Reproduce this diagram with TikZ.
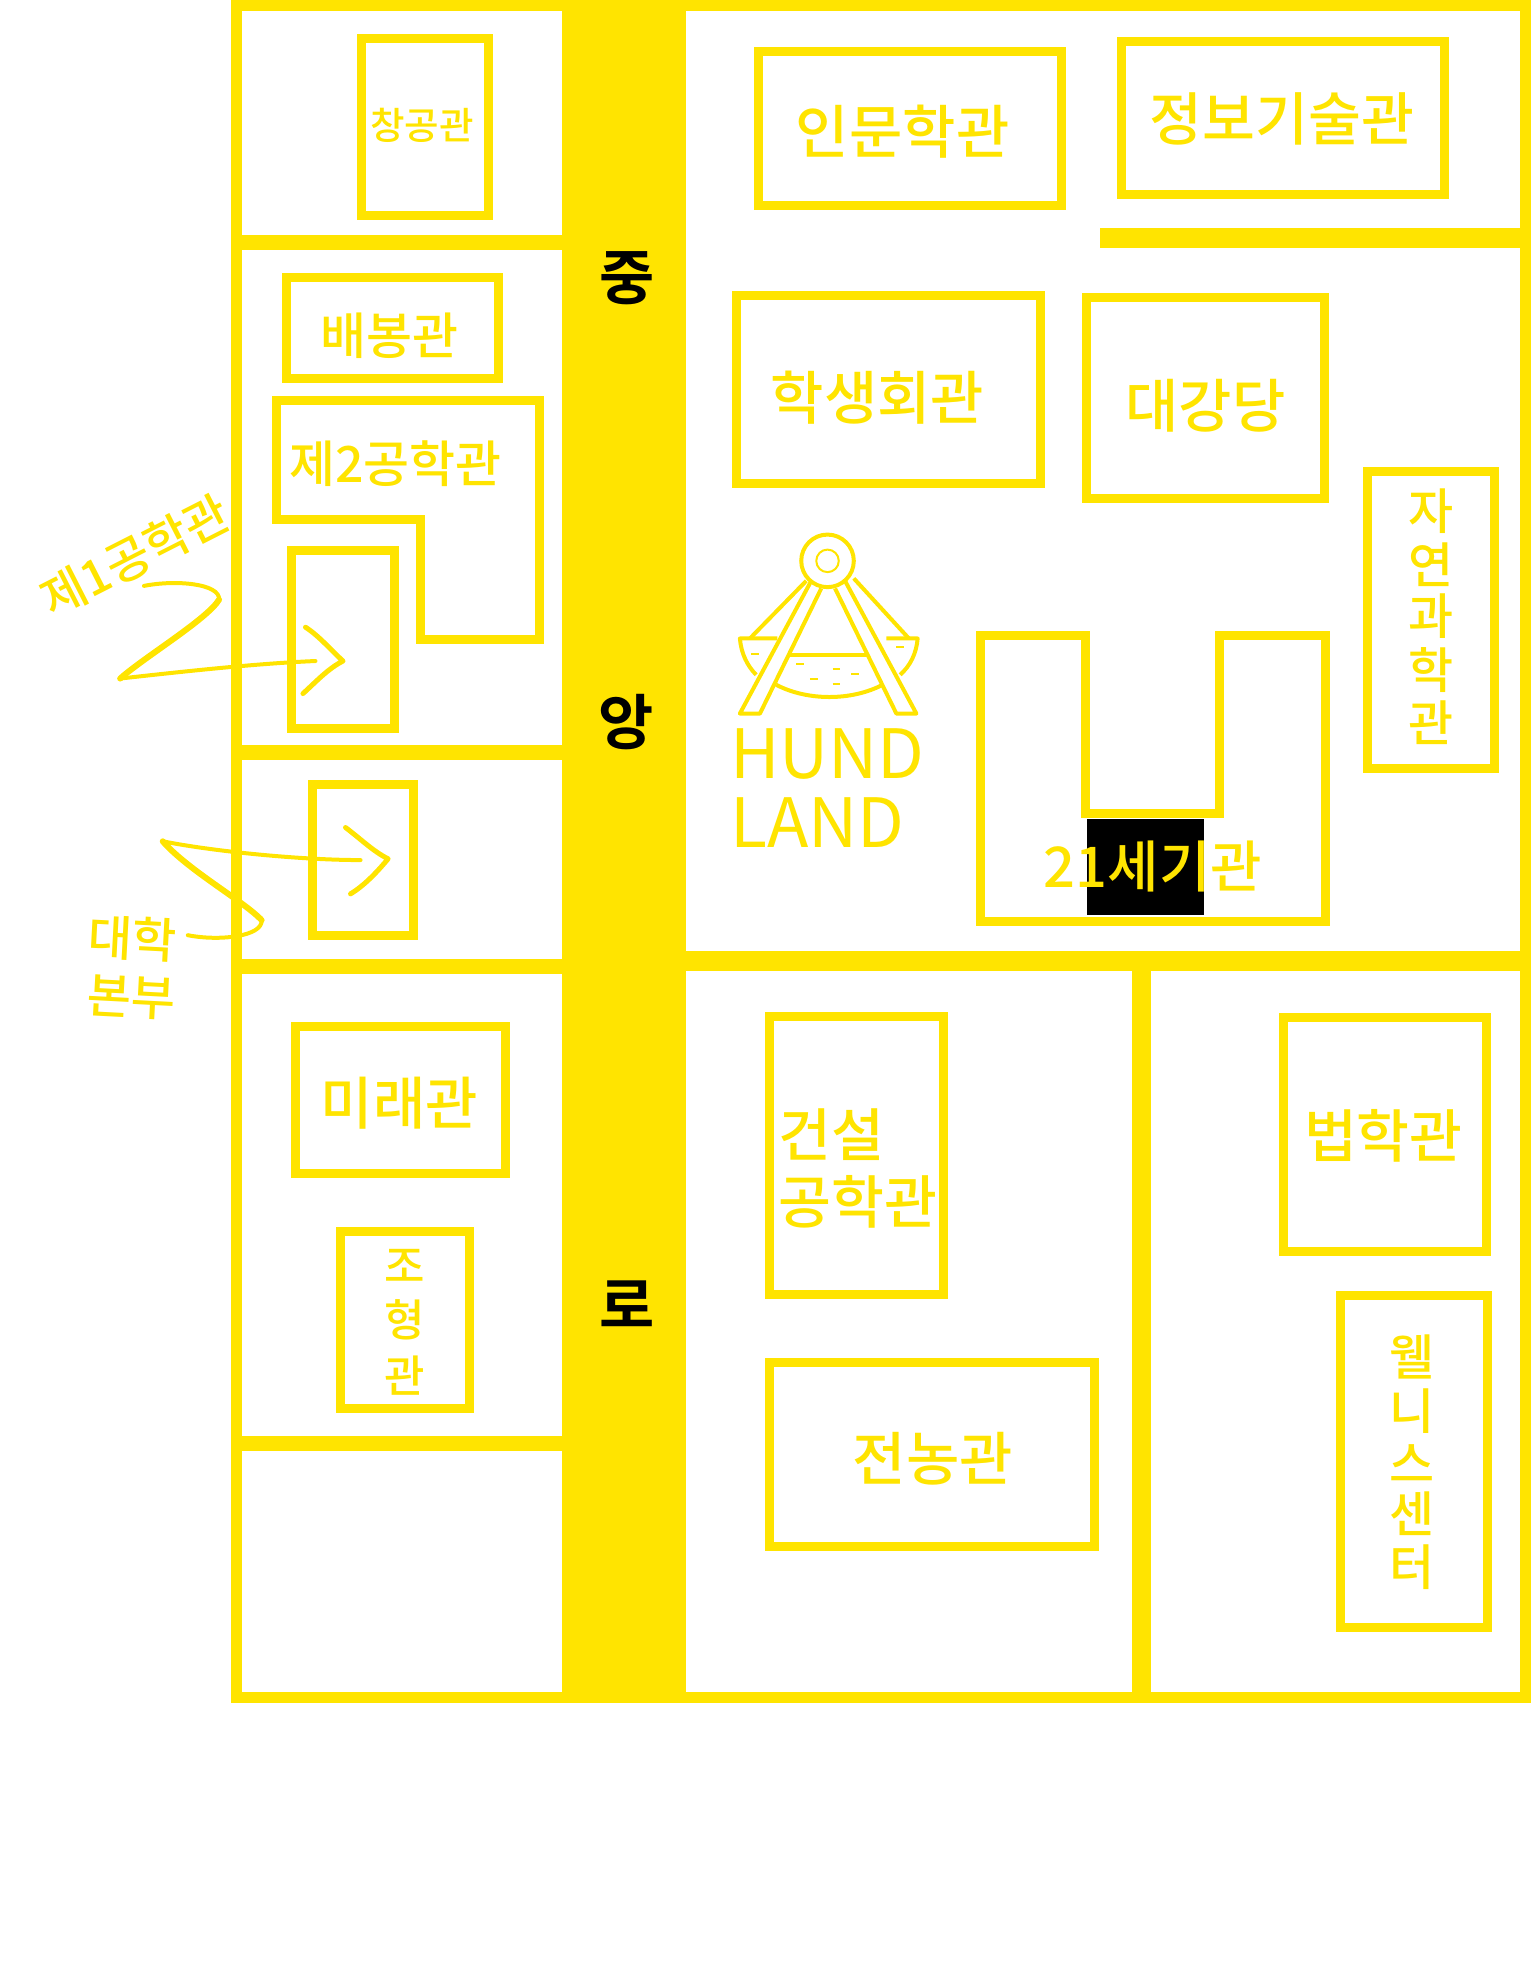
\documentclass[tikz,border=0pt]{standalone}
\usepackage{fontspec}
\newfontfamily\krfont{Noto Sans CJK KR Medium}
\newfontfamily\krboldfont{Noto Sans CJK KR Bold}
\newfontfamily\hundfont{Noto Sans CJK KR}
\definecolor{mapyellow}{HTML}{FFE400}
\tikzset{
  wall/.style={draw=mapyellow,line width=11pt},
  building/.style={draw=mapyellow,line width=9pt,miter limit=10},
  tag/.style={text=mapyellow,inner sep=0pt,yshift=-2.5pt,font=\krfont\fontsize{#1}{#1}\selectfont},
  roadtag/.style={text=black,inner sep=0pt,yshift=-2.5pt,font=\krboldfont\fontsize{60}{60}\selectfont},
  scribble/.style={draw=mapyellow,line width=4pt,line cap=round,line join=round},
  icon/.style={draw=mapyellow,line width=4pt,line join=round}
}
\begin{document}
\begin{tikzpicture}[x=1.25183pt,y=-1.25183pt]
    \useasboundingbox (0,0) rectangle (1223,1568);

    % road and outer walls
    \fill[mapyellow] (449,0) rectangle (548,1360);
    \draw[wall] (189,4.5) rectangle (1218.6,1356);
    \draw[wall,line width=15pt] (189,194) -- (449,194) (189,601) -- (449,601) (189,772) -- (449,772) (189,1153) -- (449,1153);
    \draw[wall,line width=20pt] (879,190) -- (1223,190);
    \draw[wall,line width=20pt] (548,768) -- (1223,768);
    \draw[wall,line width=19pt] (912,768) -- (912,1356);

    \node[roadtag] (roadA) at (501,220) {중};
    \node[roadtag] (roadB) at (500,575) {앙};
    \node[roadtag] (roadC) at (501,1040) {로};

    % buildings, left of the road
    \draw[building] (289,31) rectangle (390,172);
    \node[tag=37.5] (changgong) at (337,98) {창공관};
    \draw[building] (229,222) rectangle (398,302);
    \node[tag=50] (baebong) at (311,266) {배봉관};
    \draw[building] (221,320) -- (431,320) -- (431,511) -- (336,511) -- (336,415) -- (221,415) -- cycle;
    \node[tag=50] (eng2) at (316,368) {제2공학관};
    \draw[building] (233,440) rectangle (315,582);
    \draw[building] (250,627) rectangle (330,747);
    \draw[building] (236,820) rectangle (404,937);
    \node[tag=57] (mirae) at (319,879) {미래관};
    \draw[building] (272,984) rectangle (375,1125);
    \node[tag=44] (johyeongA) at (323,1009) {조};
    \node[tag=44] (johyeongB) at (323,1052) {형};
    \node[tag=44] (johyeongC) at (323,1097) {관};

    % buildings, right of the road
    \draw[building] (606,41) rectangle (848,164);
    \node[tag=58] (inmun) at (721,103) {인문학관};
    \draw[building] (896,33) rectangle (1154,155);
    \node[tag=57.5] (info) at (1024,93) {정보기술관};
    \draw[building] (588,236) rectangle (831,386);
    \node[tag=58] (student) at (701,316) {학생회관};
    \draw[building] (868,238) rectangle (1058,398);
    \node[tag=58] (hall) at (963,322) {대강당};
    \draw[building] (1092,377) rectangle (1194,614);
    \node[tag=49] (natA) at (1143,406) {자};
    \node[tag=49] (natB) at (1143,449) {연};
    \node[tag=49] (natC) at (1143,490) {과};
    \node[tag=49] (natD) at (1143,533) {학};
    \node[tag=49] (natE) at (1143,575) {관};
    \draw[building] (783,508) -- (867,508) -- (867,650) -- (974,650) -- (974,508) -- (1059,508) -- (1059,736) -- (783,736) -- cycle;
    \fill[black] (868,654) rectangle (962,731);
    \node[tag=56] (century) at (921,690) {21세기관};
    \draw[building] (615,812) rectangle (754,1034);
    \node[tag=57.5,anchor=west] (civilA) at (622,904) {건설};
    \node[tag=57.5,anchor=west] (civilB) at (622,958) {공학관};
    \draw[building] (615,1088) rectangle (874,1235);
    \node[tag=58] (jeonnong) at (745,1163) {전농관};
    \draw[building] (1025,813) rectangle (1187,1000);
    \node[tag=57.5] (law) at (1105,905) {법학관};
    \draw[building] (1071,1035) rectangle (1188,1300);
    \node[tag=49] (wellA) at (1128,1082) {웰};
    \node[tag=49] (wellB) at (1128,1125) {니};
    \node[tag=49] (wellC) at (1128,1167) {스};
    \node[tag=49] (wellD) at (1128,1207) {센};
    \node[tag=49] (wellE) at (1128,1250) {터};

    % swing icon
    \draw[icon] (661,448) circle (21);
    \draw[icon,line width=2pt] (661,448) circle (9);
    \draw[icon] (648,464) -- (591,570) -- (607,570) -- (656,470);
    \draw[icon] (675,464) -- (732,570) -- (716,570) -- (667,470);
    \draw[icon] (644,464) -- (599,510) (682,462) -- (726,510);
    \draw[icon] (621,510) -- (591,510) .. controls (592,522) and (597,532) .. (604,539);
    \draw[icon] (708,510) -- (733,510) .. controls (732,522) and (727,532) .. (719,539);
    \draw[icon] (631,523) -- (693,523);
    \draw[icon] (620,547) .. controls (645,560) and (680,560) .. (705,547);
    \draw[icon,line width=2pt] (600,522) -- (606,522) (716,517) -- (722,517) (636,530) -- (642,530)
        (665,534) -- (671,534) (680,538) -- (686,538) (647,542) -- (653,542) (665,546) -- (671,546);
    \node[tag=56,anchor=west,font=\hundfont\fontsize{68}{68}\selectfont] (hund) at (583,600) {HUND};
    \node[tag=56,anchor=west,font=\hundfont\fontsize{68}{68}\selectfont] (land) at (583,655) {LAND};

    % hand drawn pointers
    \node[tag=48,rotate=27] (eng1) at (108,442) {제1공학관};
    \node[tag=48,rotate=-3] (bonbuA) at (106,748) {대학};
    \node[tag=48,rotate=-3] (bonbuB) at (105,795) {본부};

    \coordinate (eng1tail) at (115,468);
    \coordinate (eng1bend) at (175,479);
    \coordinate (eng1turn) at (96,542);
    \coordinate (eng1tip) at (252,528);
    \draw[scribble] (eng1tail) .. controls (140,463) and (176,466) .. (eng1bend);
    \draw[scribble,line width=6pt] (eng1bend) .. controls (165,495) and (115,525) .. (eng1turn);
    \draw[scribble] (eng1turn) .. controls (150,536) and (205,530) .. (eng1tip);
    \draw[scribble,line width=5pt] (244,501) .. controls (255,508) and (265,520) .. (274,528) .. controls (262,534) and (252,545) .. (242,554);

    \coordinate (bonbutail) at (150,747);
    \coordinate (bonbubend) at (209,735);
    \coordinate (bonbuturn) at (130,672);
    \coordinate (bonbutip) at (288,687);
    \draw[scribble] (bonbutail) .. controls (175,752) and (210,748) .. (bonbubend);
    \draw[scribble,line width=6pt] (bonbubend) .. controls (195,720) and (150,695) .. (bonbuturn);
    \draw[scribble] (bonbuturn) .. controls (170,680) and (240,687) .. (bonbutip);
    \draw[scribble,line width=5pt] (276,661) .. controls (288,670) and (298,680) .. (310,686) .. controls (300,698) and (290,708) .. (280,714);
\end{tikzpicture}
\end{document}
